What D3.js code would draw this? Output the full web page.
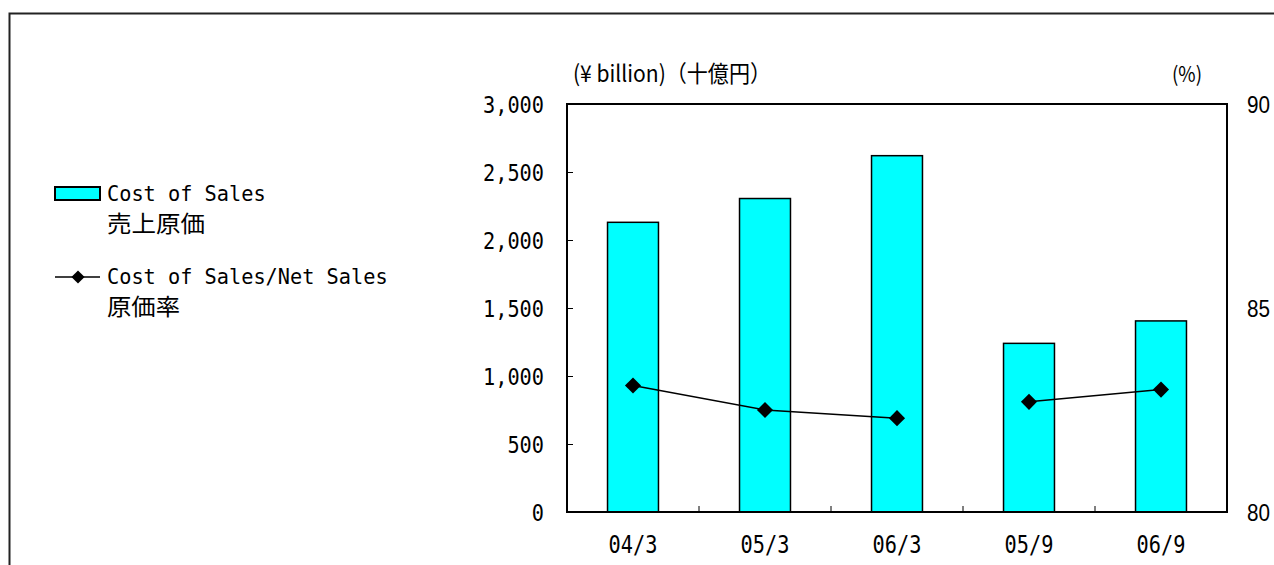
<!DOCTYPE html>
<html>
<head>
<meta charset="utf-8">
<script src="https://cdn.jsdelivr.net/npm/d3@7"></script>
<style>
  html, body { margin: 0; padding: 0; background: #fff; }
  svg { display: block; }
</style>
</head>
<body>
<svg id="chart" width="1274" height="565"></svg>
<script>
// ---- data ----
const categories = ["04/3", "05/3", "06/3", "05/9", "06/9"];
const periodGroup = ["FY", "FY", "FY", "H1", "H1"];
const costOfSales = [2130, 2305, 2620, 1240, 1405];
const costRatio = [83.1, 82.5, 82.3, 82.7, 83.0];
const leftTicks = [0, 500, 1000, 1500, 2000, 2500, 3000];
const rightTicks = [80, 85, 90];
const leftUnit = "(¥ billion)（十億円）";
const rightUnit = "(%)";
const legendBar = ["Cost of Sales", "売上原価"];
const legendLine = ["Cost of Sales/Net Sales", "原価率"];

// ---- layout ----
const svg = d3.select("#chart");
const plot = { left: 567, right: 1227, top: 104, bottom: 512 };
const MONO = "'DejaVu Sans Mono', 'Liberation Mono', monospace";
const SANS = "'Liberation Sans', Arial, sans-serif";
const CJK = "'Noto Sans CJK JP', sans-serif";
const halfW = 12.2;

// outer frame
svg.append("rect")
  .attr("x", 9.5).attr("y", 13.5).attr("width", 1400).attr("height", 700)
  .attr("fill", "none").attr("stroke", "#222").attr("stroke-width", 2);

const x = d3.scaleBand().domain(categories)
  .range([plot.left, plot.right]).paddingInner(0.614).paddingOuter(0.307);
const y = d3.scaleLinear().domain([0, 3000]).range([plot.bottom, plot.top]);
const y2 = d3.scaleLinear().domain([80, 90]).range([plot.bottom, plot.top]);

// bars
svg.append("g").selectAll("rect").data(categories).join("rect")
  .attr("x", d => x(d))
  .attr("y", (d, i) => y(costOfSales[i]))
  .attr("width", x.bandwidth())
  .attr("height", (d, i) => y(0) - y(costOfSales[i]))
  .attr("fill", "#00FFFF").attr("stroke", "#000").attr("stroke-width", 1.5);

// plot frame
svg.append("rect")
  .attr("x", plot.left).attr("y", plot.top)
  .attr("width", plot.right - plot.left).attr("height", plot.bottom - plot.top)
  .attr("fill", "none").attr("stroke", "#000").attr("stroke-width", 2);

// left axis (ticks inward)
const leftAxis = d3.axisLeft(y).tickValues(leftTicks).tickSize(-6).tickPadding(23)
  .tickFormat(d3.format(","));
const gL = svg.append("g").attr("transform", `translate(${plot.left},0)`).call(leftAxis);
gL.select(".domain").remove();
gL.selectAll(".tick line").attr("stroke", "#000").attr("stroke-width", 1);
gL.selectAll(".tick text")
  .attr("font-family", MONO).attr("font-size", 23).attr("fill", "#000")
  .attr("dy", "0.36em")
  .attr("textLength", function(d) { return this.textContent.length * halfW; })
  .attr("lengthAdjust", "spacingAndGlyphs");

// right axis
const rightAxis = d3.axisRight(y2).tickValues(rightTicks).tickSize(0).tickPadding(20)
  .tickFormat(d3.format("d"));
const gR = svg.append("g").attr("transform", `translate(${plot.right},0)`).call(rightAxis);
gR.select(".domain").remove();
gR.selectAll(".tick text")
  .attr("font-family", SANS).attr("font-size", 24).attr("fill", "#000")
  .attr("dy", "0.36em")
  .attr("textLength", 23).attr("lengthAdjust", "spacingAndGlyphs");

// bottom axis: category labels and boundary ticks
const bottomAxis = d3.axisBottom(x).tickSize(0).tickPadding(24);
const gB = svg.append("g").attr("transform", `translate(0,${plot.bottom})`).call(bottomAxis);
gB.select(".domain").remove();
gB.selectAll(".tick text")
  .attr("font-family", MONO).attr("font-size", 24).attr("fill", "#000")
  .attr("dy", "0.71em")
  .attr("textLength", function(d) { return d.length * halfW; })
  .attr("lengthAdjust", "spacingAndGlyphs");
const boundaries = categories.slice(1).map(c => x(c) - x.step() * x.paddingInner() / 2);
svg.append("g").selectAll("line").data(boundaries).join("line")
  .attr("x1", d => d).attr("x2", d => d)
  .attr("y1", plot.bottom).attr("y2", plot.bottom - 6)
  .attr("stroke", "#000").attr("stroke-width", 1);

// ratio line (broken between fiscal years and half years)
const pts = categories.map((c, i) => ({ c, g: periodGroup[i], v: costRatio[i] }));
const groups = d3.groups(pts, d => d.g);
const line = d3.line().x(d => x(d.c) + x.bandwidth() / 2).y(d => y2(d.v));
svg.append("g").selectAll("path").data(groups).join("path")
  .attr("d", d => line(d[1]))
  .attr("fill", "none").attr("stroke", "#000").attr("stroke-width", 1.5);
const diamond = d3.symbol().type(d3.symbolDiamond2).size(165);
svg.append("g").selectAll("path").data(pts).join("path")
  .attr("d", diamond)
  .attr("transform", d => `translate(${x(d.c) + x.bandwidth() / 2},${y2(d.v)})`)
  .attr("fill", "#000");

// unit labels
svg.append("text").attr("x", 573).attr("y", 82)
  .attr("font-family", CJK).attr("font-size", 23).attr("fill", "#000")
  .attr("textLength", 198).attr("lengthAdjust", "spacingAndGlyphs")
  .text(leftUnit);
svg.append("text").attr("x", 1172).attr("y", 82)
  .attr("font-family", CJK).attr("font-size", 21).attr("fill", "#000")
  .attr("textLength", 30).attr("lengthAdjust", "spacingAndGlyphs")
  .text(rightUnit);

// legend
const lg = svg.append("g");
lg.append("rect").attr("x", 55).attr("y", 187).attr("width", 45).attr("height", 13)
  .attr("fill", "#00FFFF").attr("stroke", "#000").attr("stroke-width", 2);
lg.append("text").attr("x", 107).attr("y", 201)
  .attr("font-family", MONO).attr("font-size", 22).attr("fill", "#000")
  .attr("textLength", legendBar[0].length * halfW).attr("lengthAdjust", "spacingAndGlyphs")
  .text(legendBar[0]);
lg.append("text").attr("x", 107).attr("y", 232)
  .attr("font-family", CJK).attr("font-size", 23).attr("fill", "#000")
  .attr("textLength", 98).attr("lengthAdjust", "spacingAndGlyphs")
  .text(legendBar[1]);

lg.append("line").attr("x1", 55).attr("x2", 100).attr("y1", 277).attr("y2", 277)
  .attr("stroke", "#000").attr("stroke-width", 1.5);
lg.append("path").attr("d", d3.symbol().type(d3.symbolDiamond2).size(110))
  .attr("transform", "translate(78,277)").attr("fill", "#000");
lg.append("text").attr("x", 107).attr("y", 284)
  .attr("font-family", MONO).attr("font-size", 22).attr("fill", "#000")
  .attr("textLength", legendLine[0].length * halfW).attr("lengthAdjust", "spacingAndGlyphs")
  .text(legendLine[0]);
lg.append("text").attr("x", 107).attr("y", 315)
  .attr("font-family", CJK).attr("font-size", 23).attr("fill", "#000")
  .attr("textLength", 73).attr("lengthAdjust", "spacingAndGlyphs")
  .text(legendLine[1]);
</script>
</body>
</html>
